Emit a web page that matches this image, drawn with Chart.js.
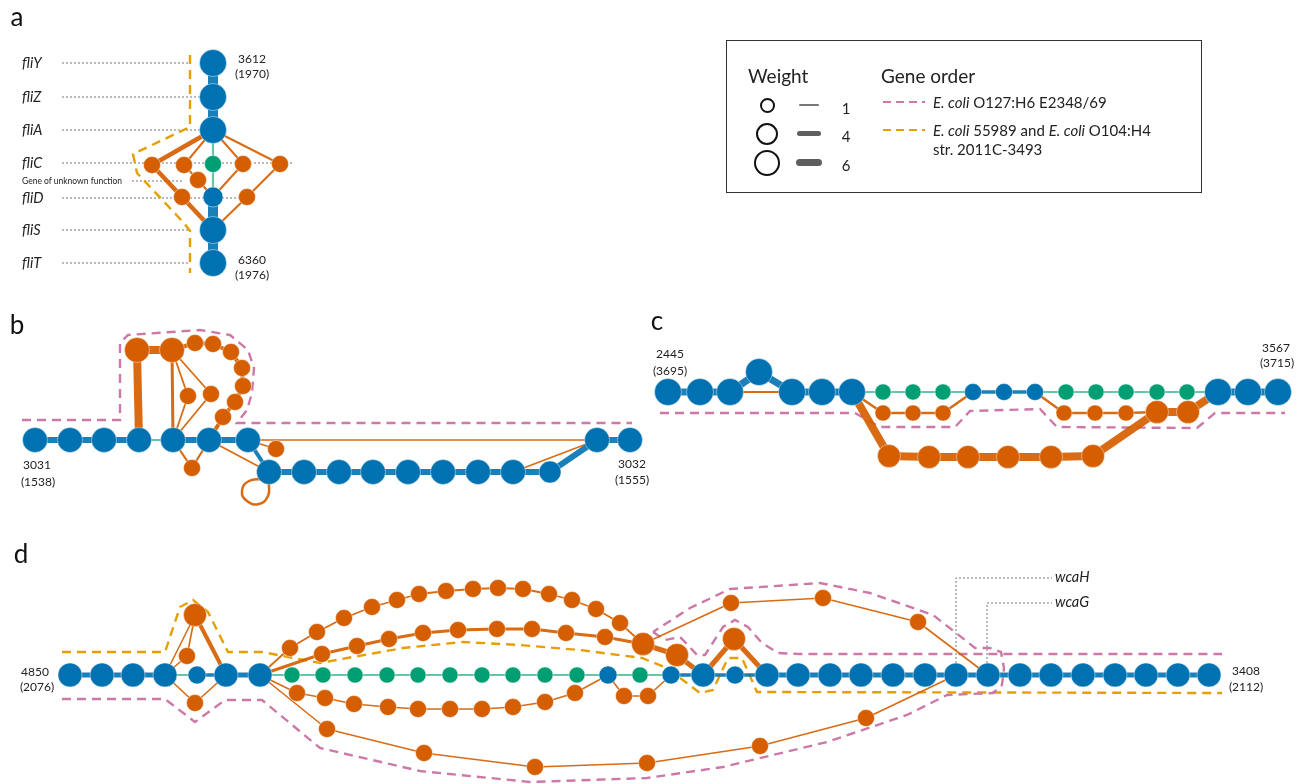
<!DOCTYPE html>
<html>
<head>
<meta charset="utf-8">
<script src="https://cdn.jsdelivr.net/npm/chart.js@4.4.1/dist/chart.umd.min.js"></script>
<style>
  body { margin: 0; background: #fff; font-family: Lato, 'Open Sans', sans-serif; color: #222; }
  #wrap { position: relative; width: 1303px; height: 784px; overflow: hidden; }
  canvas { position: absolute; left: 0; top: 0; }
  .lbl { position: absolute; white-space: nowrap; line-height: 1; font-size: 12px; transform: translate(-50%, -50%); }
  .lbl.left { transform: translate(0, -50%); }
  .panel { font-size: 26px; color: #111; }
  .gene { font-style: italic; font-size: 14.5px; }
  .tiny { font-size: 8.5px; }
  .leg { font-size: 15px; }
  .legh { font-size: 19px; }
  #legend { position: absolute; left: 726px; top: 40px; width: 474px; height: 151px; border: 1.5px solid #333; }
  .circ { position: absolute; border: 2px solid #111; border-radius: 50%; box-sizing: border-box; }
  .bar { position: absolute; background: #5f5f5f; border-radius: 4px; }
  .dash { position: absolute; height: 2px; }
</style>
</head>
<body>
<div id="wrap">
  <canvas id="graph" width="1303" height="784"></canvas>
  <div id="legend"></div>
</div>
<script>
// colours (Okabe-Ito)
const BLUE = '#0072B2', RED = '#D55E00', GREEN = '#009E73', ORANGE = '#E69F00', PINK = '#CC79A7';
const BLUE_E = 'rgba(0,114,178,0.9)', RED_E = 'rgba(213,94,0,0.92)', GREEN_E = 'rgba(0,158,115,0.6)';

// ---------- panel a ----------
const aSpineTop = [[213,63],[213,97],[213,130]];
const aSpineBottom = [[213,197],[213,230],[213,263]];
const aGreenPath = [[213,130],[213,164],[213,197]];
const aRedHeavy = [[213,130],[152,165],[182,197],[213,230]];
const aRedLeft = [[213,130],[184,165],[198,180],[213,197]];
const aRedMid = [[213,130],[243,164],[213,197]];
const aRedRight = [[213,130],[280,164],[247,197],[213,230]];
const aBlueBig = [[213,63],[213,97],[213,130],[213,230],[213,263]];
const aBlueSmall = [[213,197]];
const aGreenNodes = [[213,164]];
const aRedNodes = [[152,165],[184,165],[198,180],[243,164],[280,164],[182,197],[247,197]];
const aOutline = [[190,55],[190,127],[133,154],[137,173],[184,223],[190,231],[190,273]];
const aGuides = [
  [[62,63],[188,63]], [[62,97],[200,97]], [[62,130],[200,130]], [[62,163],[292,163]],
  [[132,181],[182,181]], [[62,198],[250,198]], [[62,230],[190,230]], [[62,263],[190,263]]
];
const aGenes = ['fliY','fliZ','fliA','fliC','fliD','fliS','fliT'];
const aGeneY = [63,97,130,163,198,230,263];

// ---------- panel b ----------
const bRowTop = [[35,440],[70,440],[104,440],[139,440]];
const bGreenLink = [[139,440],[173,440]];
const bRowMid = [[173,440],[209,440],[248,440]];
const bDrop = [[248,440],[269,472]];
const bRowLow = [[269,472],[304,472],[339,472],[373,472],[408,472],[443,472],[478,472],[513,472],[550,472],[597,440],[630,440]];
const bBlueNodes = [[35,440],[70,440],[104,440],[139,440],[173,440],[209,440],[248,440],
  [269,472],[304,472],[339,472],[373,472],[408,472],[443,472],[478,472],[513,472],[597,440],[630,440]];
const bBlueSmall = [[550,472]];
const bRedPillar = [[139,440],[137,350],[172,350]];
const bRedStem = [[172,350],[173,440]];
const bRedChain = [[172,350],[195,343],[213,344],[231,352],[242,368],[243,386],[235,402],[223,417],[209,440]];
const bRedFanA = [[172,350],[188,396],[173,440]];
const bRedFanB = [[172,350],[211,394],[173,440]];
const bRedUnder = [[173,440],[192,468],[209,440]];
const bRedSkip = [[209,440],[269,472]];
const bRedSide = [[248,440],[276,449]];
const bRedLong = [[248,440],[597,440]];
const bRedReturn = [[513,472],[597,440]];
const bLoop = [[264,479],[249,481],[242,491],[247,501],[259,504],[268,496],[269,484]];
const bRedBig = [[137,350],[172,350]];
const bRedNodes = [[195,343],[213,344],[231,352],[242,368],[243,386],[235,402],[223,417],[188,396],[211,394],[192,468],[276,449]];
const bOutline = [[22,420],[120,420],[120,343],[128,335],[200,330],[230,335],[248,350],[254,368],[252,393],[247,410],[237,423],[632,423]];

// ---------- panel c ----------
const cRowA = [[668,392],[700,392],[730,392],[759,372],[792,392],[822,392],[852,392]];
const cRedShort = [[730,392],[792,392]];
const cGreen = [[852,392],[883,392],[913,392],[943,392],[973,392]];
const cBlueMid = [[973,392],[1004,392],[1035,392]];
const cGreen2 = [[1035,392],[1066,392],[1096,392],[1126,392],[1157,392],[1187,392],[1218,392]];
const cRowB = [[1218,392],[1248,392],[1278,392]];
const cRedSmall1 = [[852,392],[883,413],[913,413],[943,413],[973,392]];
const cRedSmall2 = [[1035,392],[1064,413],[1095,413],[1126,413],[1157,412]];
const cRedHeavy = [[852,392],[889,456],[929,457],[968,457],[1008,457],[1051,457],[1093,456],[1157,412],[1188,412],[1218,392]];
const cBlueBig = [[668,392],[700,392],[730,392],[759,372],[792,392],[822,392],[852,392],[1218,392],[1248,392],[1278,392]];
const cBlueSmall = [[973,392],[1004,392],[1035,392]];
const cGreenNodes = [[883,392],[913,392],[943,392],[1066,392],[1096,392],[1126,392],[1157,392],[1187,392]];
const cRedSmall = [[883,413],[913,413],[943,413],[1064,413],[1095,413],[1126,413]];
const cRedBig = [[889,456],[929,457],[968,457],[1008,457],[1051,457],[1093,456],[1157,412],[1188,412]];
const cOutline = [[660,413],[855,413],[880,427],[955,427],[970,411],[1040,409],[1057,427],[1197,428],[1215,413],[1285,413]];

// ---------- panel d ----------
const dRowA = [[70,675],[102,675],[133,675],[165,675]];
const dGreenA = [[165,675],[197,675]];
const dBlueA = [[197,675],[226,675]];
const dRowB = [[226,675],[260,675]];
const dGreen = [[260,675],[292,675],[323,675],[355,675],[387,675],[418,675],[450,675],[482,675],[513,675],[545,675],[577,675],[608,675],[640,675],[671,675]];
const dBlueB = [[671,675],[703,675],[735,675],[767,675]];
const dRowC = [[767,675],[798,675],[830,675],[861,675],[893,675],[925,675],[956,675],[988,675],[1020,675],[1051,675],[1083,675],[1115,675],[1146,675],[1178,675],[1209,675]];
const dBumpThin1 = [[165,675],[195,615]];
const dBumpThin2 = [[165,675],[187,656],[195,615]];
const dBumpThick = [[195,615],[226,675]];
const dBumpDown = [[165,675],[195,703],[226,675]];
const dArcOuter = [[260,675],[290,648],[317,632],[344,618],[372,607],[397,600],[419,594],[446,591],[473,589],[498,588],[523,589],[549,594],[572,600],[596,609],[620,623],[643,644]];
const dArcMid = [[260,675],[322,654],[357,646],[389,639],[423,633],[458,630],[497,629],[532,629],[566,633],[605,637],[643,644]];
const dArcLow = [[260,675],[297,693],[325,698],[354,704],[388,707],[418,709],[450,709],[482,709],[513,707],[545,702],[575,693],[608,675]];
const dDip = [[608,675],[624,696],[648,696],[671,675]];
const dArcBottom = [[260,675],[327,729],[424,753],[535,767],[647,763],[760,746],[866,718],[956,675]];
const dHeavy = [[643,644],[677,655],[703,675],[734,639],[767,675]];
const dTopRight = [[643,644],[731,603],[823,598],[918,622],[988,675]];
const dBlueBig = [[70,675],[102,675],[133,675],[165,675],[226,675],[260,675],[703,675],
  [767,675],[798,675],[830,675],[861,675],[893,675],[925,675],[956,675],[988,675],[1020,675],[1051,675],[1083,675],[1115,675],[1146,675],[1178,675],[1209,675]];
const dBlueSmall = [[197,675],[608,675],[671,675],[735,675]];
const dGreenNodes = [[292,675],[323,675],[355,675],[387,675],[418,675],[450,675],[482,675],[513,675],[545,675],[577,675],[640,675]];
const dRedBig = [[643,644],[677,655],[734,639],[195,615]];
const dRedNodes = [[187,656],[195,703],
  [290,648],[317,632],[344,618],[372,607],[397,600],[419,594],[446,591],[473,589],[498,588],[523,589],[549,594],[572,600],[596,609],[620,623],
  [322,654],[357,646],[389,639],[423,633],[458,630],[497,629],[532,629],[566,633],[605,637],
  [297,693],[325,698],[354,704],[388,707],[418,709],[450,709],[482,709],[513,707],[545,702],[575,693],
  [624,696],[648,696],[327,729],[424,753],[535,767],[647,763],[760,746],[866,718],
  [731,603],[823,598],[918,622]];
const dPinkOuter = [[62,699],[165,699],[195,722],[225,700],[262,700],[320,748],[420,771],[530,782],[647,778],[723,767],[827,742],[907,715],[947,695],[993,693],[1002,685],[1004,668],[1001,652],[990,648],[975,648],[965,640],[933,615],[870,593],[820,583],[730,589],[690,608],[653,632]];
const dPinkInner = [[653,632],[665,640],[680,637],[688,645],[697,655],[705,655],[723,627],[735,620],[748,627],[762,643],[778,653],[800,654],[1222,654]];
const dOrange = [[62,652],[165,652],[180,607],[193,600],[208,612],[228,652],[262,652],[320,663],[353,657],[403,648],[463,642],[520,645],[580,650],[642,658],[667,668],[700,693],[713,690],[728,658],[742,658],[757,692],[1222,693]];
const dGuideH = [[956,663],[956,578],[1052,578]];
const dGuideG = [[987,663],[987,603],[1052,603]];

// ---------- text ----------
const endLabels = [
  ['3612',252,59],['(1970)',252,74],['6360',252,260],['(1976)',252,275],
  ['3031',37,465],['(1538)',38,482],['3032',632,464],['(1555)',632,480],
  ['2445',670,354],['(3695)',670,371],['3567',1276,348],['(3715)',1277,363],
  ['4850',35,672],['(2076)',37,687],['3408',1246,671],['(2112)',1246,687]
];
const panelLabels = [['a',17,16],['b',17,324],['c',657,320],['d',21,553]];

// ---------- helpers ----------
const toXY = pts => pts.map(([x, y]) => ({x, y}));
function edge(pts, color, w, extra) {
  return Object.assign({
    data: toXY(pts), showLine: true, borderColor: color, borderWidth: w,
    pointRadius: 0, pointHoverRadius: 0, fill: false, tension: 0, order: 3, clip: false,
    borderJoinStyle: 'round'
  }, extra || {});
}
function nodes(pts, color, r) {
  return {
    data: toXY(pts), showLine: false, pointRadius: r, pointHoverRadius: r,
    pointBackgroundColor: color, backgroundColor: color,
    pointBorderColor: 'rgba(255,255,255,0.55)', pointBorderWidth: 0.8, order: 1, clip: false
  };
}
const outline = (pts, color) => edge(pts, color, 2.4, {borderDash: [9, 6], order: 4, borderJoinStyle: 'miter'});
const guide = pts => edge(pts, '#777', 1, {borderDash: [2, 2], order: 5});

const datasets = [];
// a
aGuides.forEach(g => datasets.push(guide(g)));
datasets.push(outline(aOutline, ORANGE));
datasets.push(edge(aSpineTop, BLUE_E, 10), edge(aSpineBottom, BLUE_E, 10), edge(aGreenPath, GREEN_E, 2.2));
datasets.push(edge(aRedHeavy, RED_E, 4.5), edge(aRedLeft, RED_E, 2), edge(aRedMid, RED_E, 2), edge(aRedRight, RED_E, 2));
datasets.push(nodes(aBlueBig, BLUE, 13.5), nodes(aBlueSmall, BLUE, 10), nodes(aGreenNodes, GREEN, 8.5), nodes(aRedNodes, RED, 8.5));
// b
datasets.push(outline(bOutline, PINK));
datasets.push(edge(bRowTop, BLUE_E, 6), edge(bGreenLink, GREEN_E, 2), edge(bRowMid, BLUE_E, 6), edge(bDrop, BLUE_E, 4), edge(bRowLow, BLUE_E, 6));
datasets.push(edge(bRedPillar, RED_E, 8), edge(bRedStem, RED_E, 3), edge(bRedChain, RED_E, 4),
  edge(bRedFanA, RED_E, 1.8), edge(bRedFanB, RED_E, 1.8), edge(bRedUnder, RED_E, 2.2), edge(bRedSkip, RED_E, 1.6),
  edge(bRedSide, RED_E, 1.6), edge(bRedLong, RED_E, 1.6), edge(bRedReturn, RED_E, 1.6),
  edge(bLoop, RED_E, 2.5, {tension: 0.5}));
datasets.push(nodes(bBlueNodes, BLUE, 12.5), nodes(bBlueSmall, BLUE, 11), nodes(bRedBig, RED, 12.5), nodes(bRedNodes, RED, 8.5));
// c
datasets.push(outline(cOutline, PINK));
datasets.push(edge(cRowA, BLUE_E, 7), edge(cRedShort, RED_E, 1.8), edge(cGreen, GREEN_E, 2), edge(cBlueMid, BLUE_E, 3.5),
  edge(cGreen2, GREEN_E, 2), edge(cRowB, BLUE_E, 7));
datasets.push(edge(cRedSmall1, RED_E, 2.5), edge(cRedSmall2, RED_E, 2.5), edge(cRedHeavy, RED_E, 8));
datasets.push(nodes(cBlueBig, BLUE, 13.5), nodes(cBlueSmall, BLUE, 8.5), nodes(cGreenNodes, GREEN, 8),
  nodes(cRedSmall, RED, 8), nodes(cRedBig, RED, 11.5));
// d
datasets.push(guide(dGuideH), guide(dGuideG));
datasets.push(outline(dPinkOuter, PINK), outline(dPinkInner, PINK), outline(dOrange, ORANGE));
datasets.push(edge(dRowA, BLUE_E, 5), edge(dGreenA, GREEN_E, 2), edge(dBlueA, BLUE_E, 3.5), edge(dRowB, BLUE_E, 5),
  edge(dGreen, GREEN_E, 2), edge(dBlueB, BLUE_E, 3.5), edge(dRowC, BLUE_E, 5));
datasets.push(edge(dBumpThin1, RED_E, 1.6), edge(dBumpThin2, RED_E, 1.6), edge(dBumpThick, RED_E, 4), edge(dBumpDown, RED_E, 1.6),
  edge(dArcOuter, RED_E, 1.8), edge(dArcMid, RED_E, 3), edge(dArcLow, RED_E, 1.6), edge(dDip, RED_E, 1.6),
  edge(dArcBottom, RED_E, 1.6), edge(dHeavy, RED_E, 5), edge(dTopRight, RED_E, 1.6));
datasets.push(nodes(dBlueBig, BLUE, 12), nodes(dBlueSmall, BLUE, 9), nodes(dGreenNodes, GREEN, 8),
  nodes(dRedBig, RED, 11.5), nodes(dRedNodes, RED, 8.5));

const chart = new Chart(document.getElementById('graph'), {
  type: 'scatter',
  data: { datasets: datasets },
  options: {
    responsive: false,
    animation: false,
    events: [],
    layout: { padding: 0, autoPadding: false },
    plugins: { legend: { display: false }, tooltip: { enabled: false } },
    scales: {
      x: { type: 'linear', min: 0, max: 1303, display: false },
      y: { type: 'linear', min: 0, max: 784, reverse: true, display: false }
    }
  }
});

// text placed through the chart scales
const wrap = document.getElementById('wrap');
function label(text, x, y, cls) {
  const d = document.createElement('div');
  d.className = 'lbl ' + (cls || '');
  d.style.left = chart.scales.x.getPixelForValue(x) + 'px';
  d.style.top = chart.scales.y.getPixelForValue(y) + 'px';
  d.textContent = text;
  wrap.appendChild(d);
  return d;
}
panelLabels.forEach(p => label(p[0], p[1], p[2], 'panel'));
endLabels.forEach(p => label(p[0], p[1], p[2]));
aGenes.forEach((g, i) => label(g, 22, aGeneY[i], 'gene left'));
label('Gene of unknown function', 22, 181, 'tiny left');
label('wcaH', 1055, 577, 'gene left');
label('wcaG', 1055, 602, 'gene left');

// legend box
function put(html, left, top, cls, style) {
  const d = document.createElement('div');
  d.className = cls;
  d.style.left = left + 'px';
  d.style.top = top + 'px';
  if (style) Object.assign(d.style, style);
  d.innerHTML = html;
  wrap.appendChild(d);
}
put('Weight', 748, 75, 'lbl left legh');
put('Gene order', 881, 75, 'lbl left legh');
put('', 760, 98, 'circ', {width: '15px', height: '15px'});
put('', 756, 123, 'circ', {width: '22px', height: '22px'});
put('', 754, 150, 'circ', {width: '26px', height: '26px'});
put('', 799, 104, 'bar', {width: '20px', height: '1.5px', background: '#777'});
put('', 797, 131, 'bar', {width: '24px', height: '5px'});
put('', 796, 159, 'bar', {width: '26px', height: '7px'});
put('1', 846, 108, 'lbl leg');
put('4', 846, 136, 'lbl leg');
put('6', 846, 165, 'lbl leg');
put('', 883, 101, 'dash', {width: '42px', background: 'repeating-linear-gradient(90deg,' + PINK + ' 0 8px, transparent 8px 13px)'});
put('', 883, 129, 'dash', {width: '42px', background: 'repeating-linear-gradient(90deg,' + ORANGE + ' 0 8px, transparent 8px 13px)'});
put('<i>E. coli</i> O127:H6 E2348/69', 933, 102, 'lbl left leg');
put('<i>E. coli</i> 55989 and <i>E. coli</i> O104:H4', 933, 130, 'lbl left leg');
put('str. 2011C-3493', 933, 149, 'lbl left leg');
</script>
</body>
</html>
